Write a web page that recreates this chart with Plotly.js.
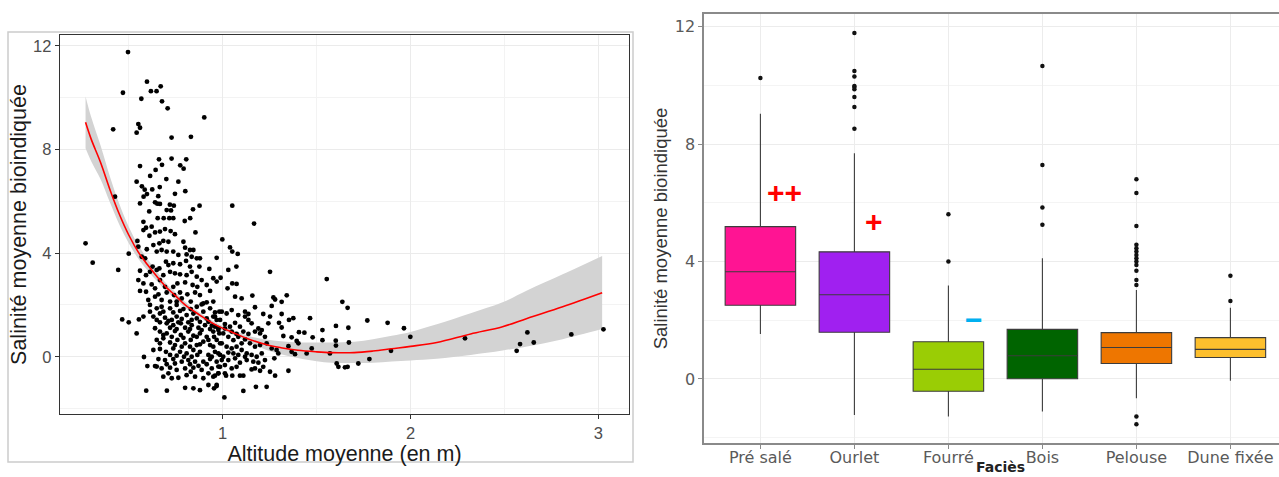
<!DOCTYPE html>
<html>
<head>
<meta charset="utf-8">
<script src="https://cdn.plot.ly/plotly-3.0.1.min.js"></script>
<style>
html,body{margin:0;padding:0;background:#fff;overflow:hidden;}
#chart{width:1279px;height:477px;}
</style>
</head>
<body>
<div id="chart"></div>
<script>
// ---------- Left panel: scatter (altitude vs salinity) ----------
const altitude = [
0.496,0.469,0.597,0.618,0.648,0.670,0.567,0.677,0.707,0.902,0.551,0.560,0.542,0.728,0.831,0.417,0.661,0.728,0.806,0.560,
0.677,0.774,0.792,0.643,0.614,0.700,0.542,0.764,0.570,0.665,0.585,0.625,0.597,0.801,0.746,0.657,0.579,0.427,0.560,0.640,
0.652,0.666,0.719,0.740,0.877,1.051,0.609,0.702,0.725,0.842,0.654,0.686,0.716,0.737,0.827,0.578,0.798,
0.592,0.622,0.578,0.610,0.640,0.666,0.693,0.723,0.746,0.855,0.546,0.551,0.596,0.631,0.663,0.684,0.711,0.791,0.800,0.826,
0.844,0.649,0.675,0.702,0.737,0.764,0.808,0.835,0.862,0.879,0.968,0.569,0.587,0.627,0.663,0.698,0.711,0.737,0.773,0.805,
0.826,0.876,0.929,0.560,0.592,0.613,0.649,0.684,0.720,0.746,0.773,0.808,0.835,0.862,0.888,0.950,0.551,0.578,0.622,0.666,
0.693,0.737,0.759,0.800,0.840,0.865,0.915,0.968,0.560,0.592,0.640,0.658,0.702,0.741,0.773,0.812,0.853,0.879,0.933,0.604,
0.640,0.675,0.720,0.755,0.782,0.830,0.897,0.915,0.950,0.613,0.649,0.675,0.720,0.755,0.791,0.830,0.862,0.888,0.933,0.982,
0.578,0.613,0.631,0.666,0.693,0.729,0.755,0.782,0.808,0.835,0.879,0.915,0.950,0.666,0.702,0.737,0.777,0.800,0.835,0.871,
0.906,0.942,0.977,0.666,0.702,0.746,0.777,0.817,0.844,0.879,0.915,0.950,0.649,0.684,0.720,0.759,0.800,0.830,0.862,0.897,
0.933,0.968,0.631,0.666,0.698,0.737,0.773,0.808,0.844,0.879,0.924,0.959,0.658,0.693,0.737,0.782,0.817,0.853,0.897,0.933,
0.968,0.675,0.720,0.755,0.800,0.844,0.888,0.942,0.684,0.729,0.764,0.808,0.853,0.897,0.950,0.800,0.844,0.879,0.924,0.954,
0.968,0.270,0.308,0.444,0.500,0.465,0.500,0.542,0.554,0.581,0.599,0.593,0.703,0.640,
0.684,0.737,0.773,0.844,0.897,0.959,0.649,0.711,0.764,0.817,0.862,0.924,0.968,0.640,0.720,0.755,0.826,0.888,0.933,0.982,
0.684,0.729,0.791,0.862,0.924,0.954,0.666,0.746,0.782,0.826,0.879,0.950,0.986,0.720,0.755,0.794,0.835,0.865,0.942,0.986,
0.702,0.746,0.826,0.871,0.915,0.977,0.649,0.711,0.830,0.924,0.977,
1.167,0.998,1.039,1.080,1.051,1.073,1.030,1.252,0.989,1.554,1.051,1.074,1.026,1.066,1.101,1.158,1.270,1.279,1.341,1.314,
1.637,1.665,1.172,1.119,1.137,1.216,1.261,1.314,1.252,1.353,1.376,1.465,1.300,1.243,1.190,1.208,1.314,1.406,1.435,1.770,
1.878,1.965,1.669,1.603,1.531,1.479,1.531,1.602,1.672,1.603,1.367,1.394,1.403,1.323,1.350,1.474,1.447,1.367,1.385,1.287,
1.296,1.261,1.234,1.571,1.896,1.999,1.275,1.350,1.607,1.616,1.651,1.665,1.722,1.781,1.172,1.199,1.252,1.279,1.092,1.110,
1.051,1.018,1.177,1.234,1.110,1.009,0.968,0.959,
0.995,1.021,1.048,1.083,1.119,1.137,1.154,0.959,0.986,1.012,1.039,1.066,1.092,1.110,1.137,1.172,1.199,1.225,0.977,1.003,
1.030,1.057,1.083,1.119,1.145,1.172,1.199,0.995,1.021,1.048,1.074,1.101,1.128,1.154,1.181,1.208,0.977,1.003,1.030,1.066,
1.092,1.128,1.163,1.190,1.225,0.986,1.012,1.048,1.074,1.154,0.977,1.012,1.216,0.959,1.012,1.048,1.074,1.030,1.101,1.119,
0.995,1.057,1.083,
2.290,2.565,2.583,2.622,2.656,2.856,3.027
];
const salinity = [
11.76,10.19,10.62,10.25,10.25,10.44,9.96,9.86,9.59,9.24,8.98,8.84,8.65,8.46,8.49,8.78,7.62,7.65,7.62,7.36,
7.41,7.39,7.26,7.21,6.98,6.86,6.76,6.76,6.58,6.55,6.45,6.46,6.28,6.39,6.29,6.20,6.18,6.18,5.92,5.96,
5.91,5.90,5.87,5.83,5.83,5.83,5.61,5.66,5.65,5.69,5.35,5.35,5.35,5.35,5.35,5.21,5.24,
4.98,5.02,4.89,4.67,4.80,4.83,4.93,4.85,4.73,4.80,4.47,4.25,4.15,4.31,4.38,4.47,4.44,4.44,4.21,4.12,
4.12,4.06,4.12,4.06,4.06,3.93,3.95,3.86,3.80,3.80,3.82,3.86,3.80,3.48,3.41,3.67,3.54,3.61,3.57,3.70,
3.48,3.48,3.39,3.32,3.15,3.28,3.35,3.15,3.28,3.22,3.18,3.15,3.28,3.09,2.96,3.03,2.96,2.83,2.79,2.96,
2.70,2.70,2.83,2.87,2.77,2.70,2.77,2.90,2.54,2.51,2.64,2.41,2.48,2.38,2.48,2.41,2.48,2.38,2.54,2.19,
2.32,2.19,2.13,2.13,2.25,2.13,2.06,2.10,2.13,2.00,1.87,1.93,1.87,2.00,1.84,1.84,1.93,2.02,1.87,1.74,
1.55,1.74,1.55,1.67,1.51,1.42,1.55,1.46,1.61,1.42,1.35,1.48,1.55,1.33,1.29,1.22,1.29,1.12,1.22,1.12,
1.22,1.20,1.10,0.97,0.90,0.99,0.84,0.97,0.81,0.90,0.77,0.97,0.65,0.71,0.55,0.65,0.52,0.65,0.45,0.58,
0.45,0.65,0.26,0.30,0.19,0.32,0.19,0.13,0.26,0.19,0.07,0.19,-0.09,-0.13,-0.09,-0.19,-0.13,-0.19,-0.19,-0.09,
-0.19,-0.45,-0.42,-0.51,-0.45,-0.42,-0.51,-0.45,-0.77,-0.83,-0.81,-0.71,-0.77,-0.83,-0.77,-1.20,-1.22,-1.29,-1.09,-1.22,
-1.09,4.38,3.63,3.35,3.98,1.44,1.33,0.90,1.44,-0.01,-0.36,-1.31,-1.31,-0.36,
1.74,1.71,1.77,1.67,1.74,1.71,1.42,1.38,1.33,1.33,1.48,1.35,1.42,1.10,1.12,1.07,1.07,1.03,1.07,0.90,
0.84,0.77,0.73,0.77,0.65,0.77,0.52,0.45,0.39,0.39,0.48,0.39,0.52,0.07,0.04,0.00,0.00,0.07,0.00,0.07,
-0.29,-0.26,-0.29,-0.35,-0.29,-0.38,-0.38,-0.64,-0.58,-0.64,-0.64,
5.14,4.53,4.22,3.97,4.06,3.48,3.35,3.28,3.05,3.00,2.83,2.81,2.64,2.32,2.25,2.36,2.29,2.21,2.37,2.12,
2.12,1.89,1.91,1.74,1.65,1.65,1.96,1.65,1.55,1.42,1.49,1.49,1.31,1.29,1.09,1.03,1.13,0.95,0.93,1.40,
1.31,1.10,1.12,1.19,1.03,0.75,0.64,0.62,0.55,0.43,0.75,0.61,0.52,0.80,0.41,0.32,0.13,0.19,0.10,0.26,
0.13,0.32,0.52,0.13,0.23,0.77,-0.06,-0.54,-0.26,-0.39,-0.41,-0.39,-0.26,-0.09,-0.45,-0.54,-0.58,-0.73,-0.73,-0.73,
-0.73,-0.73,-1.16,-1.16,-1.32,-1.57,-1.13,-0.73,
1.74,1.67,1.80,1.61,1.55,1.42,1.29,1.55,1.42,1.26,1.16,1.31,1.16,0.97,0.88,0.97,0.90,0.77,1.03,0.90,
0.77,0.64,0.77,0.67,0.52,0.39,0.45,0.52,0.39,0.32,0.39,0.26,0.13,0.07,0.00,0.13,0.13,0.00,-0.13,-0.06,
-0.23,-0.13,-0.19,-0.23,-0.13,-0.39,-0.32,-0.45,-0.39,-0.49,-0.64,-0.64,-0.39,1.16,1.09,0.97,0.88,0.16,0.52,0.00,
-0.13,0.13,0.07,
0.71,0.23,0.49,0.94,0.55,0.86,1.06
];

// smoothing curve and its confidence band
const fitX     = [0.27,0.30,0.35,0.40,0.45,0.50,0.55,0.60,0.65,0.70,0.75,0.80,0.88,0.97,1.05,1.14,1.23,1.31,1.40,1.50,1.58,1.70,1.80,1.90,2.00,2.14,2.32,2.49,2.62,2.81,3.02];
const fitY     = [9.05,8.40,7.50,6.45,5.50,4.70,4.05,3.55,3.10,2.68,2.35,2.00,1.60,1.20,0.95,0.68,0.47,0.35,0.25,0.19,0.16,0.16,0.22,0.31,0.40,0.55,0.88,1.16,1.48,1.93,2.47];
const fitUpper = [10.05,9.25,8.15,6.95,5.90,5.02,4.31,3.77,3.28,2.83,2.48,2.12,1.70,1.29,1.04,0.80,0.67,0.60,0.55,0.55,0.55,0.58,0.68,0.81,0.96,1.25,1.68,2.10,2.56,3.18,3.89];
const fitLower = [8.05,7.55,6.85,5.95,5.10,4.38,3.79,3.33,2.92,2.53,2.22,1.88,1.50,1.11,0.86,0.56,0.27,0.10,-0.05,-0.17,-0.23,-0.24,-0.23,-0.18,-0.14,-0.08,0.07,0.24,0.40,0.68,1.07];

// ---------- Right panel: boxplots by facies ----------
const facies   = ['Pré salé','Ourlet','Fourré','Bois','Pelouse','Dune fixée'];
const boxColor = ['#FF1493','#A020F0','#9ACD05','#006400','#EE7600','#FDBF2D'];
const lowerWhisker = [1.53,-1.23,-1.28,-1.11,-0.66,-0.06];
const quart1   = [2.51,1.59,-0.42,0.01,0.53,0.73];
const median   = [3.65,2.87,0.33,0.79,1.07,1.01];
const quart3   = [5.19,4.33,1.27,1.69,1.58,1.41];
const upperWhisker = [9.03,7.69,3.18,4.11,3.03,2.43];
const outliers = [
  [10.25],
  [11.78,10.49,10.30,9.98,9.94,9.87,9.60,9.26,8.52],
  [5.61,4.00],
  [10.66,7.29,5.84,5.25],
  [6.80,6.33,5.21,4.57,4.45,4.34,4.22,4.11,4.00,3.88,3.69,3.37,3.20,-1.28,-1.54],
  [3.52,2.66]
];
const signs = [
  {text:'++', at:0.26, y:6.34, color:'#FF0000'},
  {text:'+',  at:1.205, y:5.35, color:'#FF0000'},
  {text:'\u2212', at:2.27, y:2.04, color:'#00B0F0'}
];

// ---------- Traces ----------
const traces = [];
traces.push({type:'scatter', mode:'lines', x:fitX, y:fitUpper, line:{width:0, color:'rgba(0,0,0,0)', shape:'spline'}, hoverinfo:'skip', xaxis:'x', yaxis:'y'});
traces.push({type:'scatter', mode:'lines', x:fitX, y:fitLower, line:{width:0, color:'rgba(0,0,0,0)', shape:'spline'}, fill:'tonexty', fillcolor:'#d3d3d3', hoverinfo:'skip', xaxis:'x', yaxis:'y'});
traces.push({type:'scatter', mode:'markers', x:altitude, y:salinity, marker:{color:'#000', size:4.8}, xaxis:'x', yaxis:'y'});
traces.push({type:'scatter', mode:'lines', x:fitX, y:fitY, line:{color:'#FF0000', width:1.6, shape:'spline'}, xaxis:'x', yaxis:'y'});

facies.forEach((f,i)=>{
  traces.push({
    type:'box', x:[f], q1:[quart1[i]], median:[median[i]], q3:[quart3[i]],
    lowerfence:[lowerWhisker[i]], upperfence:[upperWhisker[i]],
    fillcolor:boxColor[i], line:{color:'#3c3c3c', width:1.1}, whiskerwidth:0,
    width:0.75, boxpoints:false, xaxis:'x2', yaxis:'y2', name:f
  });
});
const oX = [], oY = [];
outliers.forEach((arr,i)=>arr.forEach(v=>{oX.push(facies[i]); oY.push(v);}));
traces.push({type:'scatter', mode:'markers', x:oX, y:oY, marker:{color:'#111', size:4.5}, xaxis:'x2', yaxis:'y2'});

const W = 1279, H = 477;
const annotations = signs.map(s=>({
  xref:'x2', yref:'y2', x:s.at, y:s.y, text:'<b>'+s.text+'</b>', showarrow:false,
  font:{family:'Liberation Sans, Arial, sans-serif', size:30, color:s.color}
}));
// x-axis title of the right panel, sitting right at the bottom edge below the tick labels
annotations.push({
  xref:'paper', yref:'paper', x:1000/W, y:0, xanchor:'center', yanchor:'bottom',
  text:'<b>Faciès</b>', showarrow:false,
  font:{family:'DejaVu Sans, sans-serif', size:14, color:'#222'}
});

const layout = {
  width:W, height:H, margin:{l:0,r:0,t:0,b:0}, showlegend:false,
  paper_bgcolor:'#fff', plot_bgcolor:'#fff',
  font:{family:'Liberation Sans, Arial, sans-serif', color:'#4d4d4d'},
  xaxis:{
    domain:[60/W, 629/W], range:[0.134,3.163], tick0:0, dtick:1,
    showline:true, mirror:true, linecolor:'#333', linewidth:1.3,
    ticks:'outside', ticklen:4, tickcolor:'#333', tickfont:{size:16.5, color:'#4d4d4d'},
    showgrid:true, gridcolor:'#ebebeb', gridwidth:1.2, zeroline:false,
    minor:{tick0:0, dtick:0.5, showgrid:true, gridcolor:'#f3f3f3', gridwidth:1, ticks:''},
    title:{text:'Altitude moyenne (en m)', font:{size:21.5, color:'#1a1a1a'}, standoff:0},
    automargin:false, anchor:'y'
  },
  yaxis:{
    domain:[(H-414)/H, (H-35)/H], range:[-2.21,12.42], tickvals:[0,4,8,12],
    showline:true, mirror:true, linecolor:'#333', linewidth:1.3,
    ticks:'outside', ticklen:4, tickcolor:'#333', tickfont:{size:16.5, color:'#4d4d4d'},
    showgrid:true, gridcolor:'#ebebeb', gridwidth:1.2, zeroline:false,
    minor:{tick0:0, dtick:2, showgrid:true, gridcolor:'#f3f3f3', gridwidth:1, ticks:''},
    title:{text:'Salinité moyenne bioindiquée', font:{size:21.5, color:'#1a1a1a'}, standoff:0},
    automargin:false, anchor:'x'
  },
  xaxis2:{
    domain:[704/W, 1], range:[-0.6, 5.517], type:'category', categoryorder:'array', categoryarray:facies,
    showline:true, mirror:true, linecolor:'#8a8a8a', linewidth:1.6,
    ticks:'outside', ticklen:4, tickcolor:'#8a8a8a', ticklabelstandoff:-5,
    tickfont:{family:'DejaVu Sans, sans-serif', size:16, color:'#5a5a5a'},
    showgrid:true, gridcolor:'#ececec', zeroline:false,
    automargin:false, anchor:'y2'
  },
  yaxis2:{
    domain:[(H-443)/H, (H-14)/H], range:[-2.18,12.43], tickvals:[0,4,8,12],
    showline:true, linecolor:'#8a8a8a', linewidth:1.6,
    ticks:'outside', ticklen:4, tickcolor:'#8a8a8a',
    tickfont:{family:'DejaVu Sans, sans-serif', size:16, color:'#5a5a5a'},
    showgrid:true, gridcolor:'#ececec', zeroline:false,
    minor:{tick0:0, dtick:2, showgrid:true, gridcolor:'#f4f4f4', ticks:''},
    title:{text:'Salinité moyenne bioindiquée', font:{size:18.5, color:'#333'}, standoff:2},
    automargin:false, anchor:'x2'
  },
  shapes:[
    {type:'rect', xref:'paper', yref:'paper', x0:8/W, x1:633/W, y0:(H-462)/H, y1:(H-32)/H,
     line:{color:'#cccccc', width:1.5}, fillcolor:'rgba(0,0,0,0)', layer:'below'}
  ],
  annotations:annotations
};

Plotly.newPlot('chart', traces, layout, {staticPlot:true, displayModeBar:false});
</script>
</body>
</html>
